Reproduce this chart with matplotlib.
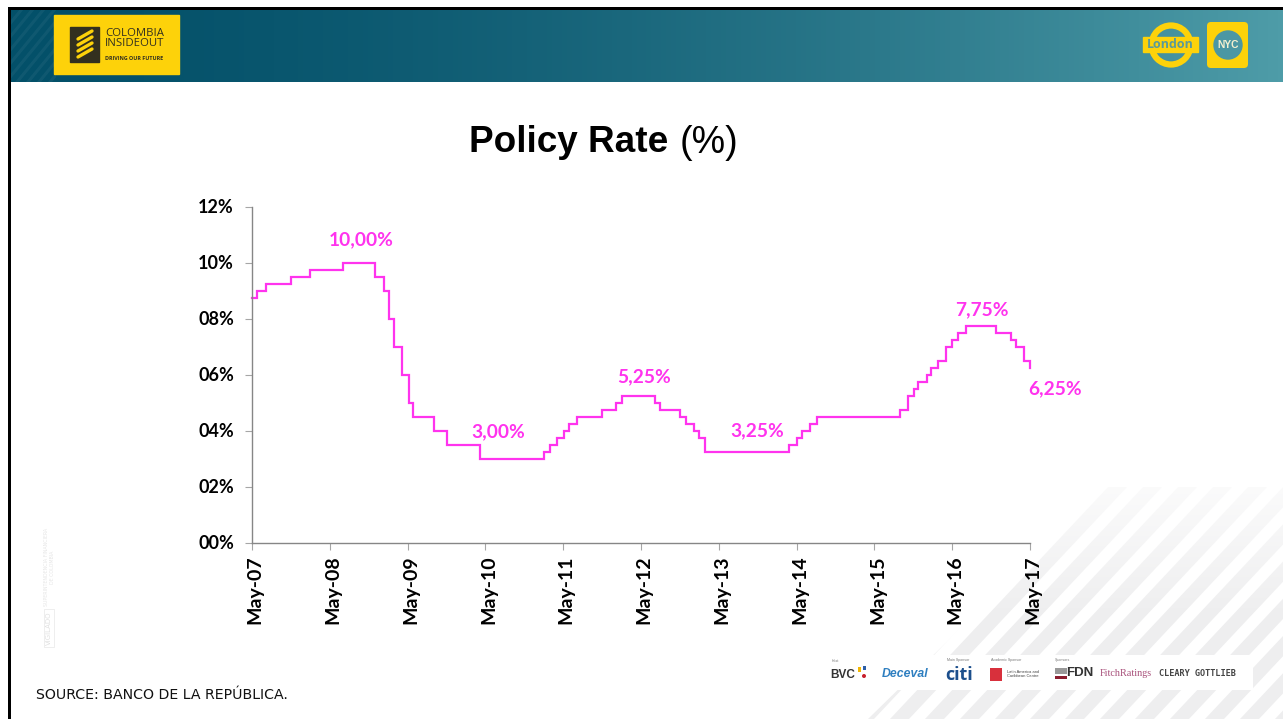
import numpy as np
import matplotlib
matplotlib.use('Agg')
import matplotlib.pyplot as plt
from matplotlib.collections import PolyCollection
from matplotlib.patches import Circle, FancyBboxPatch, Polygon, Rectangle
from matplotlib.transforms import ScaledTranslation

# Months since May-07 at which the policy rate changes
months = [0, 0.7, 2.1, 6.0, 9.0, 14.1, 18.9, 20.3, 21.1, 21.9, 23.2, 24.2, 24.9, 28.1, 30.0, 35.2,
          45.0, 45.9, 47.1, 48.2, 48.9, 50.2, 54.0, 56.2, 57.0, 62.1, 63.0, 66.0, 66.9, 68.1, 69.0, 69.9,
          82.9, 84.1, 84.9, 86.1, 87.1, 100.0, 101.2, 102.1, 102.7, 104.1, 104.8, 105.8, 107.1, 108.0,
          108.9, 110.1, 114.8, 117.0, 117.9, 119.1, 120.0]
rate = [8.75, 9.0, 9.25, 9.5, 9.75, 10.0, 9.5, 9.0, 8.0, 7.0, 6.0, 5.0, 4.5, 4.0, 3.5, 3.0,
        3.25, 3.5, 3.75, 4.0, 4.25, 4.5, 4.75, 5.0, 5.25, 5.0, 4.75, 4.5, 4.25, 4.0, 3.75, 3.25,
        3.5, 3.75, 4.0, 4.25, 4.5, 4.75, 5.25, 5.5, 5.75, 6.0, 6.25, 6.5, 7.0, 7.25,
        7.5, 7.75, 7.5, 7.25, 7.0, 6.5, 6.25]

x_ticks = [0, 12, 24, 36, 48, 60, 72, 84, 96, 108, 120]
x_labels = ['May-07', 'May-08', 'May-09', 'May-10', 'May-11', 'May-12',
            'May-13', 'May-14', 'May-15', 'May-16', 'May-17']
y_ticks = [0, 2, 4, 6, 8, 10, 12]
y_labels = ['00%', '02%', '04%', '06%', '08%', '10%', '12%']

callouts = ['10,00%', '3,00%', '5,25%', '3,25%', '7,75%', '6,25%']
callout_x = [16.8, 38.0, 60.4, 78.0, 112.5, 123.9]
callout_y = [10.83, 3.97, 5.95, 4.02, 8.32, 5.5]

W, H = 1283, 719
MAGENTA = '#ff33ee'
YELLOW = '#fdd20a'
DARK = '#33301f'

fig = plt.figure(figsize=(W / 100, H / 100), dpi=100, facecolor='white')

# page layer in pixel coordinates
bg = fig.add_axes([0, 0, 1, 1])
bg.axis('off')

# header band
grad = np.linspace(0, 1, 256) ** 1.6
grad = grad.reshape(1, -1, 1)
left_col = np.array([3, 80, 105]) / 255
right_col = np.array([78, 156, 168]) / 255
bg.imshow(left_col + (right_col - left_col) * grad, extent=[10, W, 82, 9], aspect='auto', zorder=1)

# hatching behind the logo
header_clip = Rectangle((10, 9), 46, 73, transform=bg.transData)
for x0 in np.arange(-40, 110, 11):
    p = Polygon([(x0, 82), (x0 + 4, 82), (x0 + 4 + 60, 9), (x0 + 60, 9)],
                facecolor='white', alpha=0.05, edgecolor='none', zorder=2)
    bg.add_patch(p)
    p.set_clip_path(header_clip)

# black frame
bg.add_patch(Rectangle((8, 7), W - 8, 2.5, color='black', lw=0, zorder=6))
bg.add_patch(Rectangle((8, 7), 2.5, H - 7, color='black', lw=0, zorder=6))

# Colombia Inside Out logo
bg.add_patch(Rectangle((54, 15), 125, 59, color=YELLOW, zorder=3))
bg.add_patch(Rectangle((70, 27), 29, 35, color=DARK, zorder=4))
for yy in [37, 43, 49, 55]:
    bg.plot([78, 92], [yy + 2, yy - 6], color=YELLOW, lw=2.4, zorder=5, solid_capstyle='round')
bg.text(105, 33, 'COLOMBIA', fontsize=8.2, family='Open Sans', color=DARK, va='center', zorder=5)
bg.text(105, 44, 'INSIDEOUT', fontsize=8.2, family='Open Sans', color=DARK, va='center', zorder=5)
bg.text(105, 58.5, 'DRIVING OUR FUTURE', fontsize=3.9, family='Open Sans', weight='bold', color=DARK, va='center', zorder=5)

# London roundel
bg.add_patch(Circle((1171, 45), 19.5, facecolor='none', edgecolor=YELLOW, lw=4.5, zorder=3))
bg.add_patch(Rectangle((1143, 37), 55, 15, color=YELLOW, zorder=4))
bg.text(1170.5, 44.5, 'London', fontsize=9, family='Open Sans', weight='bold', color='#5a9a9a', ha='center', va='center', zorder=5)

# NYC badge
bg.add_patch(FancyBboxPatch((1210, 25), 35, 40, boxstyle='round,pad=3,rounding_size=4',
                            facecolor=YELLOW, edgecolor='none', zorder=3))
bg.add_patch(Circle((1228, 45), 14, color='#4b97a3', zorder=4))
bg.text(1228, 45, 'NYC', fontsize=7.4, family='Liberation Sans', weight='bold', color='#f4f0d0', ha='center', va='center', zorder=5)

# diagonal stripes, bottom right, fading towards the top
region = Polygon([(868, H), (1105, 487), (W, 487), (W, H)], transform=bg.transData)
stripes = []
for x0 in np.arange(820, 1500, 35):
    stripes.append([(x0, H), (x0 + 19, H), (x0 + 19 + 232 * 0.94, 487), (x0 + 232 * 0.94, 487)])
coll = PolyCollection(stripes, facecolors='#eeeeef', edgecolors='none', zorder=1)
bg.add_collection(coll)
coll.set_clip_path(region)
fade = np.ones((128, 1, 4))
fade[:, 0, 3] = np.linspace(0.75, 0, 128)
bg.imshow(fade, extent=[860, W, 620, 487], aspect='auto', zorder=1.5)
bg.add_patch(Rectangle((825, 655), 428, 35, color='white', lw=0, zorder=2))

# sponsors
bg.text(843, 675, 'BVC', fontsize=8.5, family='Liberation Sans', weight='bold', color='#333333', ha='center', va='center', zorder=3)
bg.add_patch(Rectangle((858, 667), 3, 5, color='#f2b705', lw=0, zorder=3))
bg.add_patch(Rectangle((863, 666), 3, 4, color='#2c5fa8', lw=0, zorder=3))
bg.add_patch(Circle((864, 676), 2, color='#c8202c', lw=0, zorder=3))
bg.text(905, 674, 'Deceval', fontsize=8.8, family='Liberation Sans', style='italic', weight='bold', color='#2f7fc0', ha='center', va='center', zorder=3)
bg.text(959, 675, 'citi', fontsize=13, family='Open Sans', weight='bold', color='#1c4f8c', ha='center', va='center', zorder=3)
bg.add_patch(Rectangle((990, 668), 12, 13, color='#d8303c', lw=0, zorder=3))
bg.text(1023, 674, 'Latin America and\nCaribbean Centre', fontsize=2.9, family='Liberation Sans', color='#444444', ha='center', va='center', zorder=3)
bg.add_patch(Rectangle((1055, 668), 12, 6, color='#999999', lw=0, zorder=3))
bg.add_patch(Rectangle((1055, 676), 12, 3, color='#8a1c2e', lw=0, zorder=3))
bg.text(1080, 673, 'FDN', fontsize=9.5, family='Liberation Sans', weight='bold', color='#333333', ha='center', va='center', zorder=3)
bg.text(1126, 674, 'FitchRatings', fontsize=7.3, family='Liberation Serif', color='#a8507a', ha='center', va='center', zorder=3)
bg.text(1197, 673, 'CLEARY GOTTLIEB', fontsize=6.1, family='DejaVu Sans Mono', weight='bold', color='#444444', ha='center', va='center', zorder=3)
for sx, s in [(832, 'Host'), (947, 'Main Sponsor'), (991, 'Academic Sponsor'), (1055, 'Sponsors')]:
    bg.text(sx, 660.5, s, fontsize=2.6, family='Liberation Sans', color='#777777', va='center', zorder=3)

# faint watermark at left
bg.text(46, 567, 'SUPERINTENDENCIA FINANCIERA', fontsize=3.4, rotation=90, color='#e6e6e6', ha='center', va='center')
bg.text(53, 567, 'DE COLOMBIA', fontsize=3.4, rotation=90, color='#e6e6e6', ha='center', va='center')
bg.text(49, 628, 'VIGILADO', fontsize=5, rotation=90, color='#e0e0e0', ha='center', va='center',
        bbox=dict(facecolor='none', edgecolor='#ebebeb', lw=0.6, pad=1.5))

bg.set_xlim(0, W)
bg.set_ylim(H, 0)

# title
fig.text(469 / W, 1 - 143 / H, 'Policy Rate', fontsize=26.6, family='Liberation Sans', weight='bold', va='center')
fig.text(680 / W, 1 - 143 / H, '(%)', fontsize=27, family='Liberation Sans', va='center')

# source
fig.text(36 / W, 1 - 695 / H, 'Source: Banco de la República.'.upper(), fontsize=10.2,
         family='DejaVu Sans', color='#111111', va='center')

# chart
ax = fig.add_axes([252 / W, 1 - 543 / H, 778 / W, 336 / H])
ax.patch.set_alpha(0)
ax.plot(months, rate, drawstyle='steps-post', color=MAGENTA, lw=1.6, clip_on=False,
        solid_joinstyle='miter')
ax.set_xlim(0, 120)
ax.set_ylim(0, 12)
ax.set_xticks(x_ticks)
ax.set_xticklabels(x_labels, rotation=90, family='Lato', weight='bold', fontsize=14)
ax.set_yticks(y_ticks)
ax.set_yticklabels(y_labels, family='Lato', weight='bold', fontsize=13)
ax.tick_params(axis='both', length=5, width=0.8, color='#a6a6a6', pad=4)
ax.tick_params(axis='y', pad=8)
nudge_y = ScaledTranslation(0, 1 / 100, fig.dpi_scale_trans)
for lab in ax.get_yticklabels():
    lab.set_transform(lab.get_transform() + nudge_y)
nudge_x = ScaledTranslation(3 / 100, 0, fig.dpi_scale_trans)
for lab in ax.get_xticklabels():
    lab.set_transform(lab.get_transform() + nudge_x)
ax.spines['top'].set_visible(False)
ax.spines['right'].set_visible(False)
for side in ['left', 'bottom']:
    ax.spines[side].set_color('#868686')
    ax.spines[side].set_linewidth(1)

for lab, cx, cy in zip(callouts, callout_x, callout_y):
    ax.text(cx, cy, lab, color=MAGENTA, family='Lato', weight='bold', fontsize=13.8, ha='center', va='center')

fig.savefig('out.png', dpi=100)
